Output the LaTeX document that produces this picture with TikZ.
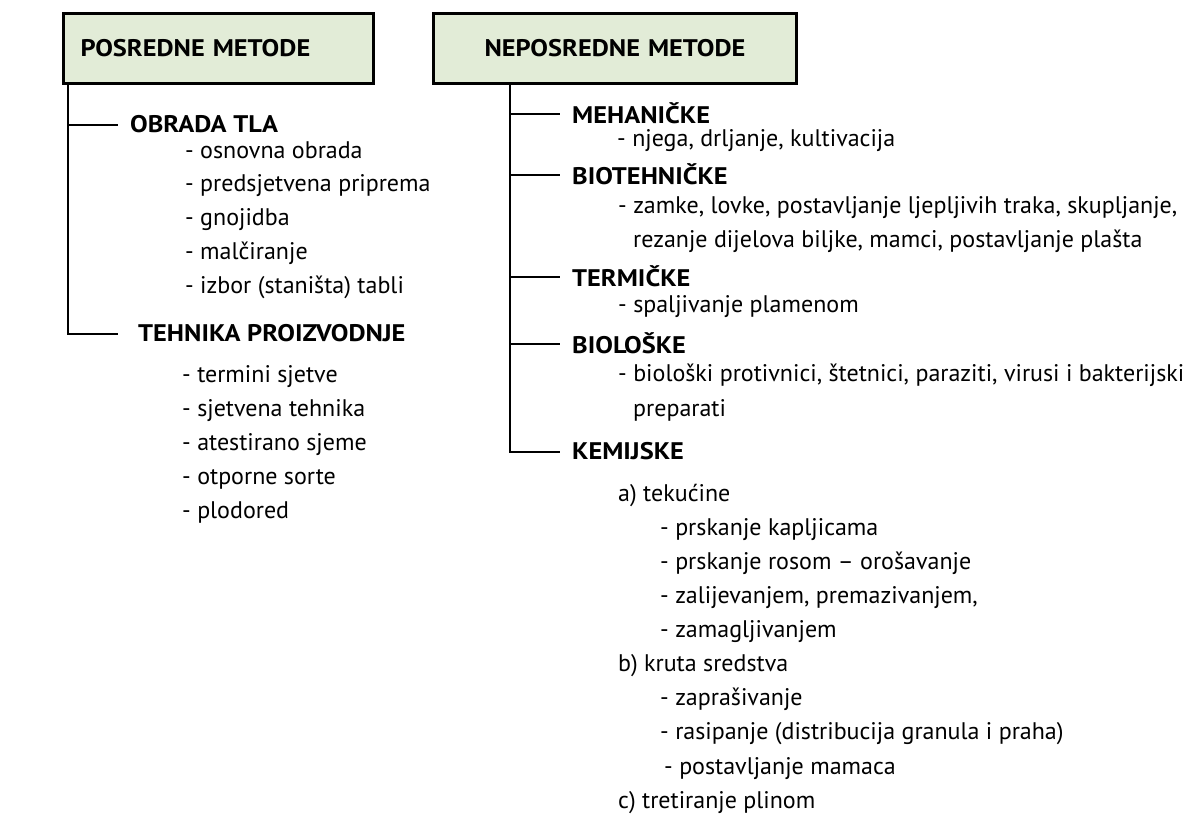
\documentclass[tikz,border=0pt]{standalone}
\usepackage{fontspec}
\setmainfont{PT Sans}[BoldFeatures={FakeStretch=1.1}]
\usetikzlibrary{positioning}
\definecolor{boxgreen}{HTML}{E2ECD7}

\tikzset{
  titlebox/.style={draw=black, line width=3pt, fill=boxgreen, minimum height=70pt,
    inner sep=0pt, font=\bfseries\fontsize{24}{28}\selectfont},
  head/.style={anchor=base west, inner sep=0pt, font=\bfseries\fontsize{24}{28}\selectfont},
  item/.style={anchor=base west, inner sep=0pt, font=\fontsize{24}{28}\selectfont},
  tree/.style={line width=2pt}
}

\begin{document}
\begin{tikzpicture}[x=1pt,y=-1pt]
\useasboundingbox (0,0) rectangle (1200,825);

% the two title boxes
\node[titlebox, minimum width=310pt, text width=276pt, align=left] (posr) at (218.5,48.5) {POSREDNE METODE};
\node[titlebox, minimum width=363pt, text width=330pt, align=center] (neposr) at (615,48.5) {NEPOSREDNE METODE};

% left branch
\node[head] (obrada) at (130,132) {OBRADA TLA};
\node[item] (osnovna) at (185,158) {- osnovna obrada};
\node[item] (predsj) at (185,191) {- predsjetvena priprema};
\node[item] (gnoj) at (185,225) {- gnojidba};
\node[item] (malc) at (185,259) {- malčiranje};
\node[item] (izbor) at (185,293) {- izbor (staništa) tabli};

\node[head] (tehnika) at (138,341) {TEHNIKA PROIZVODNJE};
\node[item] (termini) at (182,382) {- termini sjetve};
\node[item] (sjtehn) at (182,416) {- sjetvena tehnika};
\node[item] (atest) at (182,450) {- atestirano sjeme};
\node[item] (otpor) at (182,484) {- otporne sorte};
\node[item] (plodor) at (182,518) {- plodored};

% right branch
\node[head] (meh) at (572,123) {MEHANIČKE};
\node[item] (njega) at (617,146) {- njega, drljanje, kultivacija};
\node[head] (biot) at (572,184) {BIOTEHNIČKE};
\node[item] (zamke) at (618,213) {- zamke, lovke, postavljanje ljepljivih traka, skupljanje,};
\node[item] (rezanje) at (633,247) {rezanje dijelova biljke, mamci, postavljanje plašta};
\node[head] (term) at (572,286) {TERMIČKE};
\node[item] (spalj) at (618,312) {- spaljivanje plamenom};
\node[head] (biol) at (572,353) {BIOLOŠKE};
\node[item] (protiv) at (618,381) {- biološki protivnici, štetnici, paraziti, virusi i bakterijski};
\node[item] (prep) at (633,416) {preparati};
\node[head] (kem) at (572,459) {KEMIJSKE};
\node[item] (tek) at (618,501) {a) tekućine};
\node[item] (kaplj) at (660,535) {- prskanje kapljicama};
\node[item] (rosom) at (660,569) {- prskanje rosom -- orošavanje};
\node[item] (zalij) at (660,603) {- zalijevanjem, premazivanjem,};
\node[item] (zamag) at (660,637) {- zamagljivanjem};
\node[item] (kruta) at (618,671) {b) kruta sredstva};
\node[item] (zapras) at (660,705) {- zaprašivanje};
\node[item] (rasip) at (660,739) {- rasipanje (distribucija granula i praha)};
\node[item] (mamac) at (664,774) {- postavljanje mamaca};
\node[item] (plin) at (618,808) {c) tretiranje plinom};

% tree lines
\draw[tree] ([xshift=6pt]posr.south west) |- ([xshift=-12pt,yshift=-1pt]obrada.west);
\draw[tree] ([xshift=6pt]posr.south west) |- ([xshift=-20pt,yshift=-1pt]tehnika.west);
\foreach \h in {meh,biot,term,biol,kem}
  \draw[tree] ([xshift=78pt]neposr.south west) |- ([xshift=-12pt,yshift=-1pt]\h.west);
\end{tikzpicture}
\end{document}
